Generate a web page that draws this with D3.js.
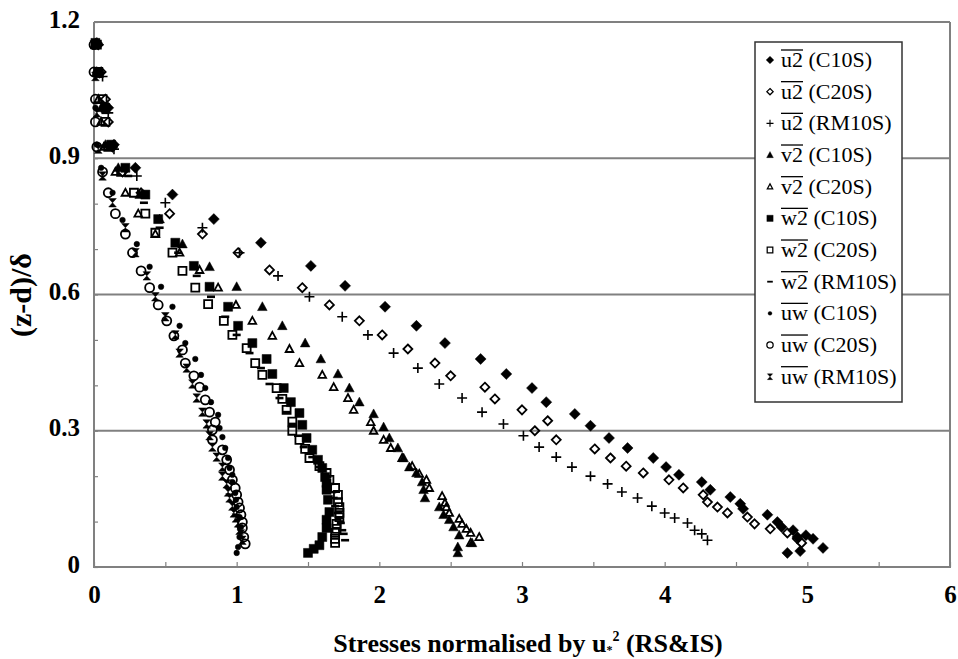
<!DOCTYPE html>
<html>
<head>
<meta charset="utf-8">
<script src="https://cdn.jsdelivr.net/npm/d3@7"></script>
<style>
  body { margin: 0; background: #fff; }
  svg text { font-family: "Liberation Serif", "Times New Roman", serif; }
</style>
</head>
<body>
<svg id="chart" width="958" height="659"></svg>
<script>
// tick labels
var xTickLabels = ['0', '1', '2', '3', '4', '5', '6'];
var yTickLabels = ['0', '0.3', '0.6', '0.9', '1.2'];

// series, [stress, (z-d)/delta]
var u2C10S = [[0.02,1.154],[0.04,1.088],[0.10,1.011],[0.14,0.930],[0.29,0.879],[0.55,0.820],[0.84,0.766],[1.17,0.714],[1.52,0.663],[1.76,0.619],[2.04,0.573],[2.26,0.531],[2.46,0.493],[2.71,0.458],[2.89,0.425],[3.07,0.394],[3.17,0.363],[3.37,0.337],[3.48,0.311],[3.61,0.284],[3.74,0.262],[3.92,0.240],[4.01,0.220],[4.10,0.203],[4.26,0.187],[4.32,0.170],[4.46,0.154],[4.53,0.139],[4.55,0.128],[4.72,0.115],[4.79,0.099],[4.82,0.088],[4.90,0.081],[4.93,0.066],[4.99,0.070],[5.04,0.062],[5.11,0.042],[4.86,0.031],[4.95,0.035]];
var u2C20S = [[0.03,1.150],[0.05,1.090],[0.08,1.030],[0.10,0.980],[0.13,0.925],[0.20,0.870],[0.33,0.824],[0.53,0.778],[0.76,0.733],[1.01,0.692],[1.23,0.654],[1.46,0.615],[1.65,0.577],[1.86,0.542],[2.02,0.511],[2.20,0.480],[2.39,0.449],[2.50,0.421],[2.74,0.396],[2.81,0.370],[3.00,0.346],[3.18,0.322],[3.09,0.300],[3.24,0.280],[3.51,0.260],[3.62,0.240],[3.73,0.222],[3.85,0.207],[4.03,0.192],[4.13,0.174],[4.27,0.159],[4.30,0.143],[4.37,0.132],[4.44,0.119],[4.58,0.110],[4.63,0.095],[4.74,0.084],[4.86,0.075],[4.93,0.062],[4.96,0.053]];
var u2RM10S = [[0.03,1.150],[0.06,1.080],[0.10,1.000],[0.14,0.920],[0.30,0.861],[0.50,0.802],[0.76,0.747],[1.02,0.692],[1.29,0.641],[1.51,0.595],[1.74,0.551],[1.92,0.511],[2.10,0.471],[2.27,0.438],[2.42,0.403],[2.58,0.372],[2.72,0.341],[2.87,0.315],[3.01,0.289],[3.12,0.264],[3.24,0.242],[3.35,0.220],[3.48,0.200],[3.60,0.183],[3.70,0.165],[3.81,0.152],[3.91,0.134],[4.00,0.119],[4.07,0.108],[4.16,0.097],[4.21,0.081],[4.26,0.073],[4.30,0.059]];
var v2C10S = [[0.01,1.154],[0.02,1.088],[0.05,1.011],[0.08,0.930],[0.17,0.879],[0.32,0.820],[0.46,0.766],[0.62,0.711],[0.81,0.661],[1.00,0.617],[1.18,0.573],[1.32,0.531],[1.48,0.493],[1.59,0.458],[1.71,0.425],[1.79,0.394],[1.86,0.363],[1.96,0.337],[2.03,0.308],[2.07,0.284],[2.13,0.262],[2.17,0.240],[2.21,0.220],[2.26,0.207],[2.30,0.187],[2.31,0.170],[2.32,0.152],[2.42,0.132],[2.45,0.115],[2.49,0.104],[2.52,0.088],[2.56,0.070],[2.65,0.053],[2.55,0.044],[2.55,0.031]];
var v2C20S = [[0.01,1.150],[0.02,1.090],[0.03,1.030],[0.05,0.980],[0.07,0.925],[0.15,0.870],[0.22,0.824],[0.31,0.778],[0.43,0.733],[0.60,0.692],[0.74,0.654],[0.87,0.615],[0.995,0.577],[1.11,0.542],[1.25,0.509],[1.37,0.480],[1.44,0.449],[1.60,0.423],[1.68,0.396],[1.78,0.372],[1.82,0.346],[1.94,0.319],[1.96,0.300],[2.03,0.280],[2.08,0.262],[2.16,0.240],[2.23,0.222],[2.28,0.205],[2.33,0.192],[2.35,0.174],[2.44,0.156],[2.46,0.141],[2.47,0.132],[2.49,0.119],[2.56,0.106],[2.58,0.095],[2.61,0.084],[2.64,0.075],[2.70,0.066],[2.64,0.053]];
var w2C10S = [[0.01,1.154],[0.03,1.088],[0.08,1.011],[0.12,0.930],[0.22,0.879],[0.36,0.820],[0.45,0.766],[0.57,0.714],[0.70,0.663],[0.81,0.617],[0.94,0.573],[1.01,0.531],[1.11,0.493],[1.21,0.458],[1.25,0.425],[1.33,0.394],[1.38,0.363],[1.44,0.339],[1.46,0.313],[1.49,0.284],[1.53,0.258],[1.57,0.236],[1.60,0.218],[1.62,0.198],[1.63,0.185],[1.63,0.170],[1.64,0.148],[1.65,0.121],[1.63,0.104],[1.63,0.086],[1.60,0.066],[1.58,0.048],[1.54,0.040],[1.50,0.031]];
var w2C20S = [[0.02,1.150],[0.03,1.090],[0.06,1.030],[0.08,0.980],[0.10,0.925],[0.19,0.870],[0.28,0.824],[0.36,0.778],[0.43,0.736],[0.55,0.692],[0.62,0.652],[0.71,0.615],[0.80,0.579],[0.91,0.542],[0.97,0.511],[1.07,0.482],[1.13,0.449],[1.18,0.423],[1.28,0.394],[1.32,0.370],[1.35,0.346],[1.39,0.320],[1.39,0.300],[1.44,0.280],[1.48,0.260],[1.51,0.240],[1.58,0.222],[1.63,0.207],[1.65,0.192],[1.69,0.174],[1.71,0.159],[1.71,0.143],[1.72,0.132],[1.72,0.119],[1.72,0.110],[1.70,0.095],[1.70,0.084],[1.69,0.075],[1.69,0.062],[1.69,0.053]];
var w2RM10S = [[0.02,1.150],[0.04,1.080],[0.08,1.000],[0.12,0.920],[0.24,0.861],[0.35,0.802],[0.46,0.747],[0.59,0.692],[0.72,0.641],[0.82,0.595],[0.92,0.551],[1.00,0.511],[1.09,0.471],[1.17,0.438],[1.23,0.403],[1.30,0.372],[1.35,0.341],[1.39,0.315],[1.43,0.289],[1.47,0.264],[1.53,0.242],[1.58,0.220],[1.63,0.200],[1.65,0.183],[1.67,0.165],[1.68,0.152],[1.69,0.134],[1.71,0.119],[1.72,0.108],[1.73,0.097],[1.74,0.081],[1.75,0.073],[1.76,0.059]];
var uwC10S = [[0.00,1.154],[0.01,1.088],[0.01,1.011],[0.02,0.930],[0.05,0.879],[0.13,0.824],[0.20,0.764],[0.30,0.711],[0.39,0.661],[0.47,0.617],[0.55,0.573],[0.60,0.531],[0.64,0.493],[0.71,0.458],[0.75,0.423],[0.78,0.394],[0.82,0.363],[0.87,0.335],[0.88,0.306],[0.90,0.286],[0.92,0.262],[0.94,0.240],[0.95,0.218],[0.97,0.203],[0.97,0.187],[0.99,0.163],[0.995,0.148],[1.00,0.132],[1.02,0.110],[1.03,0.088],[1.02,0.066],[1.01,0.044],[1.00,0.031]];
var uwC20S = [[0.00,1.150],[0.00,1.090],[0.01,1.030],[0.01,0.980],[0.02,0.925],[0.06,0.870],[0.10,0.824],[0.15,0.778],[0.22,0.733],[0.27,0.692],[0.33,0.652],[0.39,0.615],[0.45,0.577],[0.51,0.542],[0.56,0.509],[0.62,0.478],[0.64,0.449],[0.70,0.421],[0.74,0.396],[0.78,0.368],[0.81,0.341],[0.85,0.319],[0.83,0.302],[0.83,0.280],[0.90,0.258],[0.93,0.236],[0.95,0.214],[0.97,0.192],[0.99,0.174],[1.00,0.159],[1.01,0.143],[1.02,0.130],[1.03,0.115],[1.04,0.099],[1.04,0.086],[1.05,0.066],[1.06,0.051]];
var uwRM10S = [[0.00,1.150],[0.01,1.080],[0.02,1.000],[0.03,0.920],[0.06,0.861],[0.13,0.802],[0.22,0.747],[0.29,0.692],[0.37,0.641],[0.43,0.595],[0.50,0.551],[0.57,0.511],[0.60,0.471],[0.65,0.438],[0.69,0.403],[0.72,0.372],[0.76,0.341],[0.79,0.315],[0.81,0.289],[0.83,0.264],[0.86,0.242],[0.90,0.220],[0.90,0.200],[0.93,0.183],[0.94,0.165],[0.95,0.152],[0.97,0.134],[0.98,0.119],[0.995,0.108],[1.01,0.097],[1.02,0.081],[1.03,0.073],[1.04,0.059]];

// legend names
var seriesQty = ['u2', 'u2', 'u2', 'v2', 'v2', 'w2', 'w2', 'w2', 'uw', 'uw', 'uw'];
var seriesCase = ['C10S', 'C20S', 'RM10S', 'C10S', 'C20S', 'C10S', 'C20S', 'RM10S', 'C10S', 'C20S', 'RM10S'];
var seriesData = [u2C10S, u2C20S, u2RM10S, v2C10S, v2C20S, w2C10S, w2C20S, w2RM10S, uwC10S, uwC20S, uwRM10S];
var seriesMarker = ['diamond', 'diamondOpen', 'plus', 'tri', 'triOpen', 'square', 'squareOpen', 'dash', 'dot', 'circleOpen', 'hourglass'];

var svg = d3.select('#chart');
var x = d3.scaleLinear().domain([0, 6]).range([94, 950]);
var y = d3.scaleLinear().domain([0, 1.2]).range([567, 22]);
var gridColor = '#808080';

// marker shapes (path + filled?)
var markers = {
    diamond:    { d: 'M0,-5.5L5.5,0L0,5.5L-5.5,0Z', fill: true },
    diamondOpen:{ d: 'M0,-4.5L4.5,0L0,4.5L-4.5,0Z', fill: false },
    plus:       { d: 'M-5,0H5M0,-5V5', fill: false, line: 1.6 },
    tri:        { d: 'M0,-5L4.8,3.8L-4.8,3.8Z', fill: true },
    triOpen:    { d: 'M0,-4L3.8,3L-3.8,3Z', fill: false },
    square:     { d: 'M-4.5,-4.5H4.5V4.5H-4.5Z', fill: true },
    squareOpen: { d: 'M-4,-4H4V4H-4Z', fill: false },
    dash:       { d: 'M-4,0H4', fill: false, line: 2.6 },
    dot:        { d: 'M2.8,0A2.8,2.8 0 1,1 -2.8,0A2.8,2.8 0 1,1 2.8,0Z', fill: true },
    circleOpen: { d: 'M4.5,0A4.5,4.5 0 1,1 -4.5,0A4.5,4.5 0 1,1 4.5,0Z', fill: false },
    hourglass:  { d: 'M-3.8,-4.2H3.8L-3.8,4.2H3.8Z', fill: true }
};

function styleMarker(sel, name) {
    var m = markers[name];
    sel.attr('d', m.d)
        .attr('fill', m.fill ? '#000' : 'none')
        .attr('stroke', '#000')
        .attr('stroke-width', m.line || (m.fill ? 0.5 : 1.8));
}

// gridlines
svg.append('g').selectAll('line')
    .data([0.3, 0.6, 0.9, 1.2])
    .enter().append('line')
    .attr('x1', x(0)).attr('x2', x(6))
    .attr('y1', function (d) { return y(d); })
    .attr('y2', function (d) { return y(d); })
    .attr('stroke', gridColor).attr('stroke-width', 2);

// plot frame
svg.append('path')
    .attr('d', 'M' + x(0) + ',' + y(1.2) + 'V' + y(0) + 'H' + x(6) + 'V' + y(1.2))
    .attr('fill', 'none').attr('stroke', gridColor).attr('stroke-width', 2);

// x axis: minor ticks every 0.5, labels on integers
var xAxis = d3.axisBottom(x)
    .tickValues(d3.range(0, 6.01, 0.5))
    .tickSize(-5).tickSizeOuter(0).tickPadding(18)
    .tickFormat(function (d) { return d % 1 === 0 ? xTickLabels[d] : ''; });
var gx = svg.append('g').attr('transform', 'translate(0,' + y(0) + ')').call(xAxis);

// y axis: minor ticks every 0.1, labels every 0.3
var yAxis = d3.axisLeft(y)
    .tickValues(d3.range(0, 13).map(function (i) { return i / 10; }))
    .tickSize(-4).tickSizeOuter(0).tickPadding(14)
    .tickFormat(function (d, i) { return i % 3 === 0 ? yTickLabels[i / 3] : ''; });
var gy = svg.append('g').attr('transform', 'translate(' + x(0) + ',0)').call(yAxis);

[gx, gy].forEach(function (g) {
    g.select('.domain').remove();
    g.selectAll('.tick line').attr('stroke', gridColor).attr('stroke-width', 1.2);
    g.selectAll('.tick text')
        .attr('fill', '#000')
        .style('font-family', '"Liberation Serif", serif')
        .style('font-weight', 'bold')
        .style('font-size', '25px');
});
gy.selectAll('.tick text').attr('dy', '0.2em');

// data points
seriesData.forEach(function (data, i) {
    svg.append('g').selectAll('path')
        .data(data)
        .enter().append('path')
        .attr('transform', function (d) { return 'translate(' + x(d[0]) + ',' + y(d[1]) + ')'; })
        .call(styleMarker, seriesMarker[i]);
});

// axis titles
var xt = svg.append('text')
    .attr('x', 528).attr('y', 652)
    .attr('text-anchor', 'middle')
    .style('font-weight', 'bold').style('font-size', '26px');
xt.append('tspan').text('Stresses normalised by u');
xt.append('tspan').attr('font-size', '12px').attr('dy', 2).text('*');
xt.append('tspan').attr('font-size', '14px').attr('dy', -13).text('2');
xt.append('tspan').attr('dy', 11).text(' (RS&IS)');

svg.append('text')
    .attr('transform', 'translate(31,295) rotate(-90)')
    .attr('text-anchor', 'middle')
    .style('font-weight', 'bold').style('font-size', '30px')
    .text('(z-d)/δ');

// legend
var legend = svg.append('g');
legend.append('rect')
    .attr('x', 755).attr('y', 42).attr('width', 147).attr('height', 360)
    .attr('fill', '#fff').attr('stroke', '#333').attr('stroke-width', 1.5);
var rowH = 31.67;
seriesQty.forEach(function (q, i) {
    var cy = 60 + i * rowH;
    legend.append('path')
        .attr('transform', 'translate(770,' + cy + ') scale(0.7)')
        .call(styleMarker, seriesMarker[i]);
    var t = legend.append('text')
        .attr('x', 781).attr('y', cy + 7)
        .style('font-size', '22px');
    var qs = t.append('tspan').text(q);
    t.append('tspan').text(' (' + seriesCase[i] + ')');
    // overbar for the time-averaged quantity
    var len = qs.node().getComputedTextLength();
    legend.append('line')
        .attr('x1', 781).attr('x2', 781 + len)
        .attr('y1', cy - 10).attr('y2', cy - 10)
        .attr('stroke', '#000').attr('stroke-width', 1.3);
});
</script>
</body>
</html>
